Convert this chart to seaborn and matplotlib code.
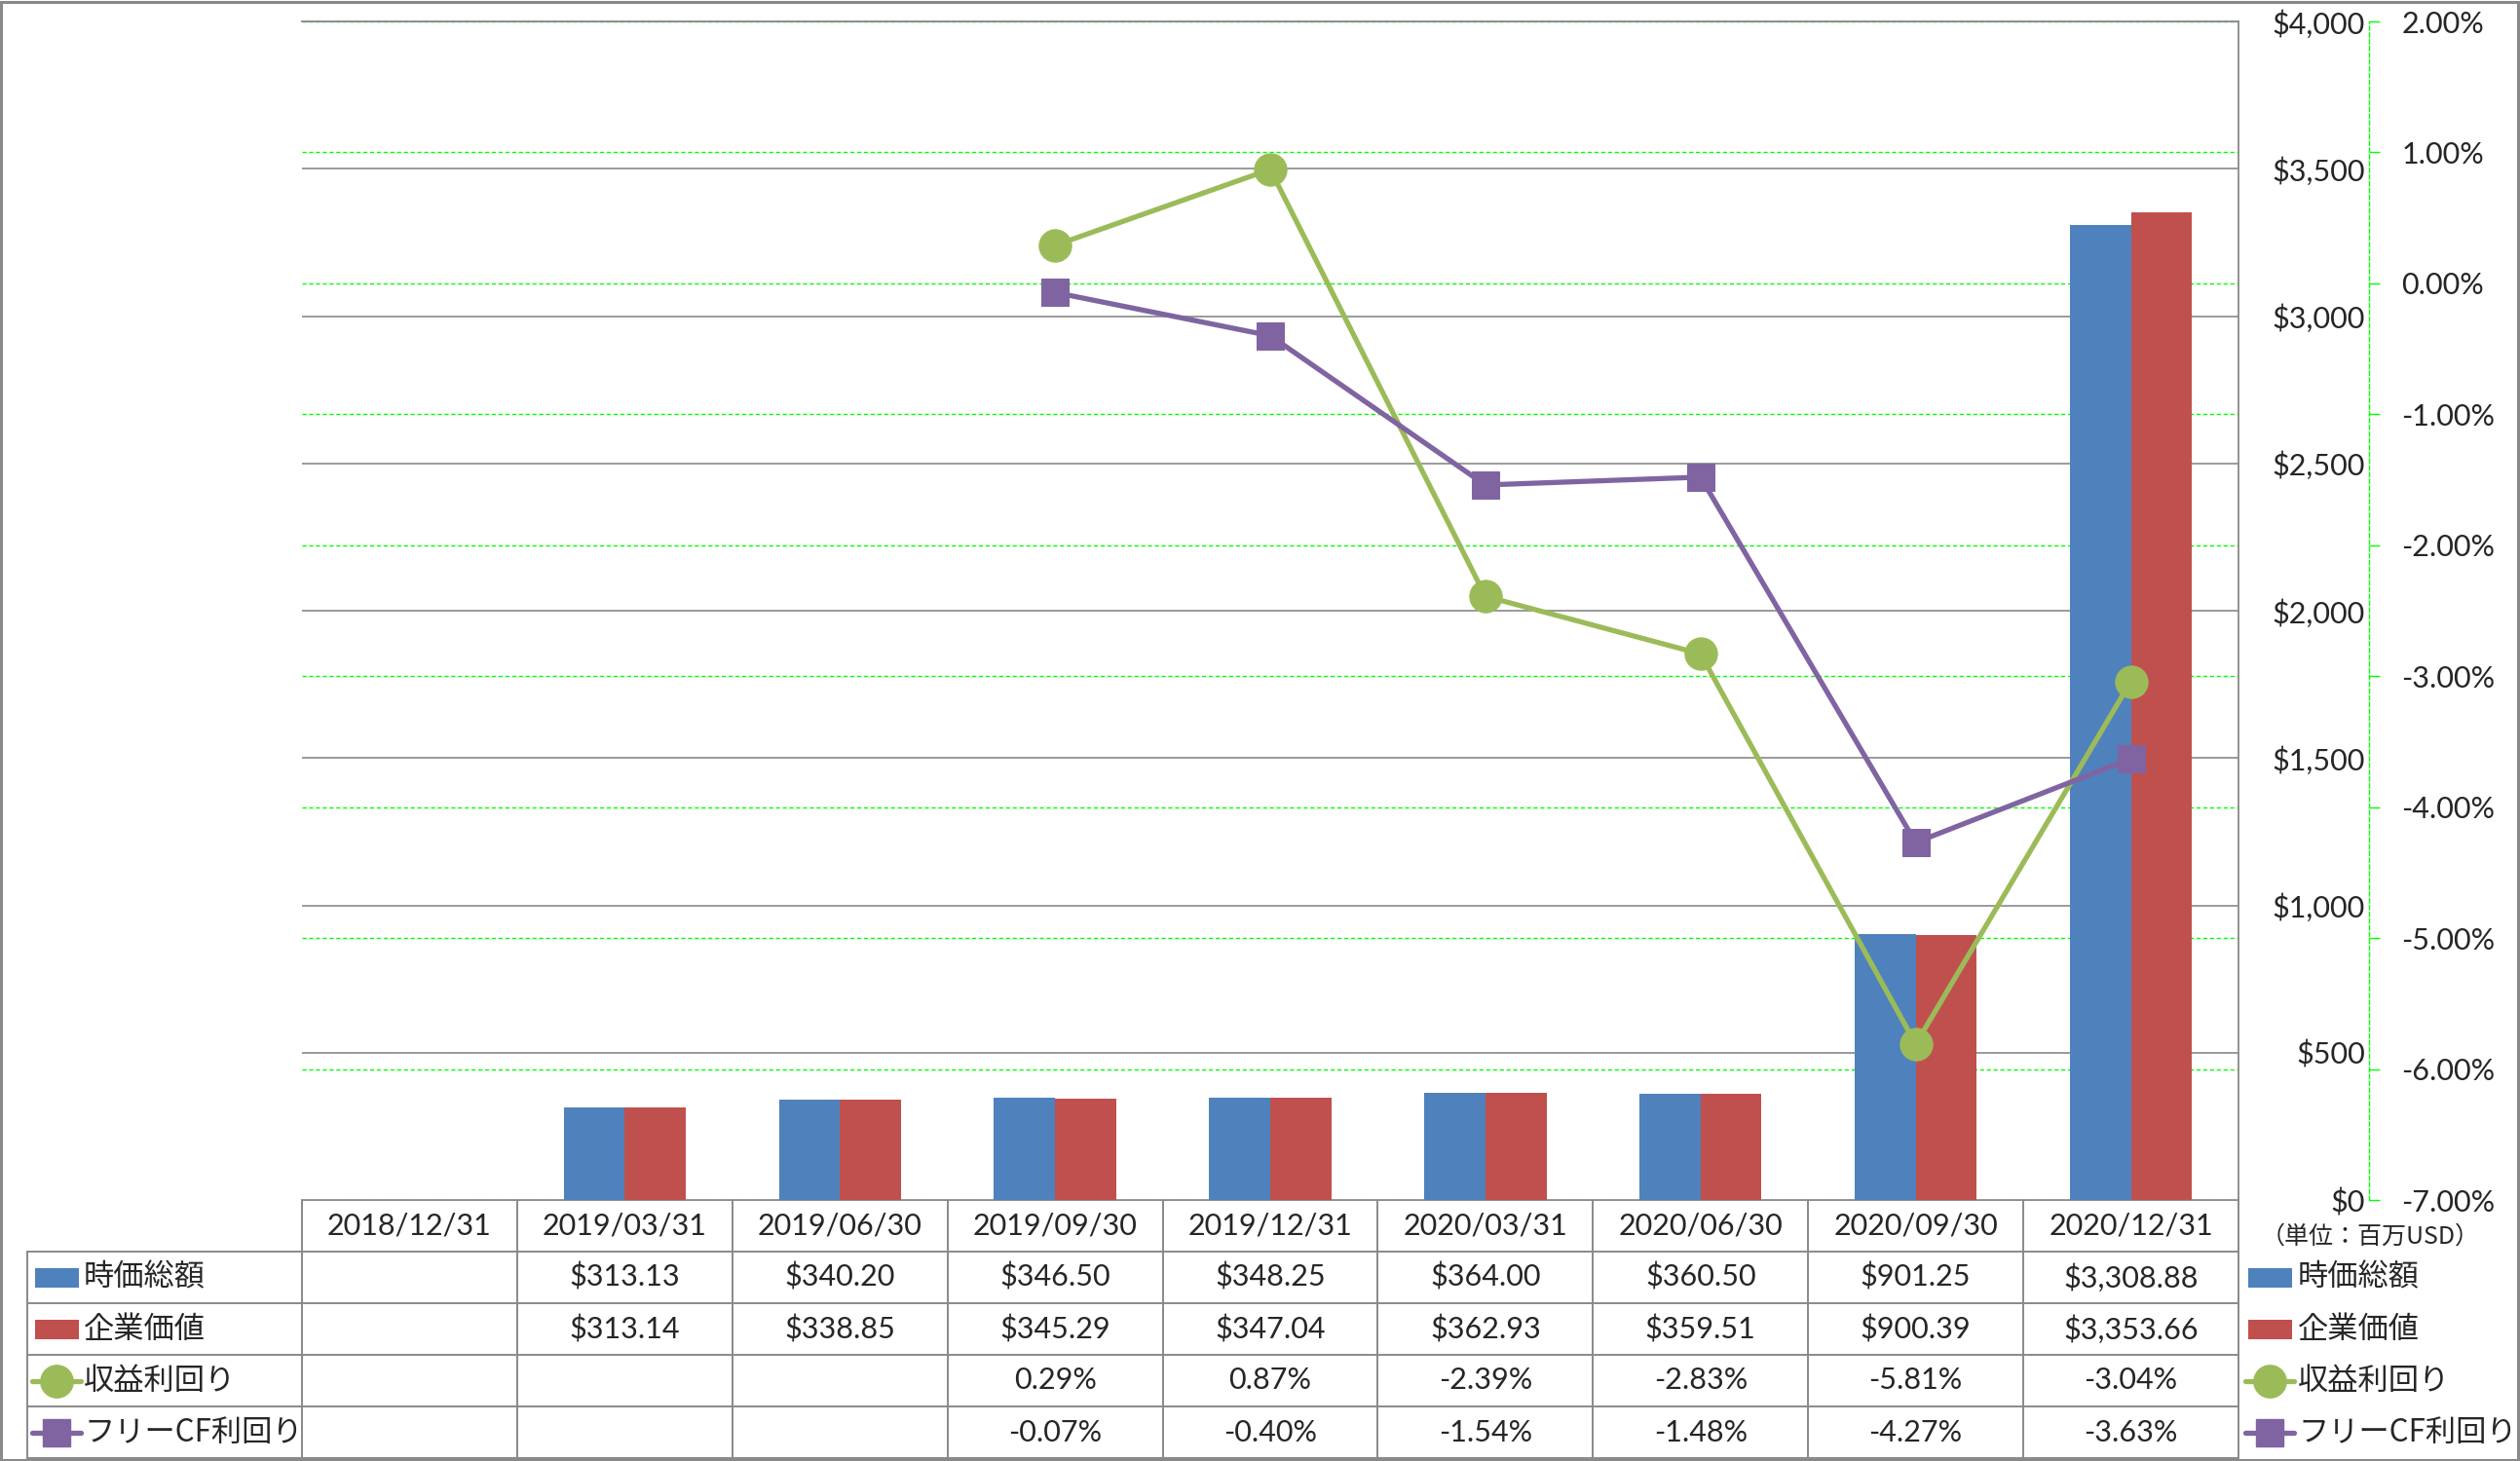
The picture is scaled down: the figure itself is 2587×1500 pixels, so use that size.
import numpy as np
import pandas as pd
import matplotlib
matplotlib.use("Agg")
import matplotlib.pyplot as plt
import matplotlib.transforms as mtransforms
from matplotlib.patches import Rectangle
from matplotlib.lines import Line2D
import seaborn as sns

# --- data ---
dates = ["2018/12/31", "2019/03/31", "2019/06/30", "2019/09/30", "2019/12/31",
         "2020/03/31", "2020/06/30", "2020/09/30", "2020/12/31"]
market_cap = [np.nan, 313.13, 340.20, 346.50, 348.25, 364.00, 360.50, 901.25, 3308.88]
enterprise_value = [np.nan, 313.14, 338.85, 345.29, 347.04, 362.93, 359.51, 900.39, 3353.66]
earnings_yield = [np.nan, np.nan, np.nan, 0.29, 0.87, -2.39, -2.83, -5.81, -3.04]
fcf_yield = [np.nan, np.nan, np.nan, -0.07, -0.40, -1.54, -1.48, -4.27, -3.63]
series_names = ["時価総額", "企業価値", "収益利回り", "フリーCF利回り"]
unit_label = "（単位：百万USD）"

usd_ticks = np.arange(0, 4001, 500)
pct_ticks = np.arange(-7, 2.01, 1)

BLUE, RED, GREEN, PURPLE = "#4F81BD", "#C0504D", "#9BBB59", "#8064A2"
GRAY, LIME = "#898989", "#00FF00"
JP = ["Noto Sans CJK JP", "DejaVu Sans"]

sns.set_theme(style="white")
plt.rcParams['font.family'] = ['Lato', 'Noto Sans CJK JP', 'DejaVu Sans']

W, H = 2587, 1500
fig = plt.figure(figsize=(W / 100, H / 100), dpi=100)


def px_rect(x0, y0, x1, y1):
    return [x0 / W, 1 - y1 / H, (x1 - x0) / W, (y1 - y0) / H]


PL, PT, PR, PB = 310, 22, 2298, 1232
rect = px_rect(PL, PT, PR, PB)
NUM_FS = 22

# table / frame layer in pixel coordinates
ax_tab = fig.add_axes([0, 0, 1, 1])
ax_tab.set_xlim(0, W)
ax_tab.set_ylim(H, 0)
ax_tab.axis("off")
ax_tab.patch.set_visible(False)

ax_grid = fig.add_axes(rect)   # secondary scale: green grid + axis
ax = fig.add_axes(rect)        # primary scale: bars
ax_line = fig.add_axes(rect)   # secondary scale: lines on top
ax.patch.set_visible(False)
ax_line.patch.set_visible(False)

# --- secondary axis (percent) with green dashed grid ---
ax_grid.set_xlim(-0.5, len(dates) - 0.5)
ax_grid.set_ylim(pct_ticks[0], pct_ticks[-1])
ax_grid.set_xticks([])
ax_grid.set_yticks(pct_ticks)
ax_grid.set_yticklabels([f"{v:.2f}%" for v in pct_ticks])
ax_grid.yaxis.tick_right()
ax_grid.tick_params(axis="y", direction="out", length=8, width=1, color=LIME,
                    pad=16, labelsize=NUM_FS)
for lab, v in zip(ax_grid.get_yticklabels(), pct_ticks):
    lab.set_color("#FF0000" if v < 0 else "black")
ax_grid.grid(axis="y", color=LIME, linewidth=1, linestyle=(0, (3, 2)))
for side in ["top", "left", "bottom"]:
    ax_grid.spines[side].set_visible(False)
ax_grid.spines["right"].set_position(("axes", 1 + 134 / (PR - PL)))
ax_grid.spines["right"].set_color(LIME)
ax_grid.spines["right"].set_linewidth(1)
ax_grid.spines["right"].set_linestyle((0, (3, 2)))

# --- bars ---
bars = pd.DataFrame({
    "date": dates * 2,
    "series": [series_names[0]] * len(dates) + [series_names[1]] * len(dates),
    "value": market_cap + enterprise_value,
}).dropna()
sns.barplot(data=bars, x="date", y="value", hue="series", order=dates,
            hue_order=series_names[:2], palette=[BLUE, RED], saturation=1,
            width=0.567, errorbar=None, legend=False, linewidth=0, ax=ax)
ax.set_xlim(-0.5, len(dates) - 0.5)
ax.set_ylim(usd_ticks[0], usd_ticks[-1])
ax.set_xlabel("")
ax.set_ylabel("")
ax.set_xticks([])
ax.set_yticks(usd_ticks)
ax.set_yticklabels([f"${v:,}" for v in usd_ticks])
ax.yaxis.tick_right()
ax.tick_params(axis="y", length=0, pad=93.6, labelsize=NUM_FS)
for lab in ax.get_yticklabels():
    lab.set_horizontalalignment("right")
ax.set_axisbelow(True)
ax.grid(axis="y", color=GRAY, linewidth=1.2)
for side in ["left", "bottom"]:
    ax.spines[side].set_visible(False)
for side in ["top", "right"]:
    ax.spines[side].set_color(GRAY)
    ax.spines[side].set_linewidth(1.3)

# --- lines ---
pos = np.arange(len(dates))
ey = pd.DataFrame({"x": pos, "y": earnings_yield}).dropna()
fy = pd.DataFrame({"x": pos, "y": fcf_yield}).dropna()
sns.lineplot(data=ey, x="x", y="y", color=GREEN, linewidth=3.8, marker="o",
             markersize=24, markeredgecolor=GREEN, ax=ax_line)
sns.lineplot(data=fy, x="x", y="y", color=PURPLE, linewidth=3.8, marker="s",
             markersize=20, markeredgecolor=PURPLE, ax=ax_line)
ax_line.set_xlim(-0.5, len(dates) - 0.5)
ax_line.set_ylim(pct_ticks[0], pct_ticks[-1])
ax_line.axis("off")

# --- data table ---
tr = mtransforms.blended_transform_factory(ax.transData, ax_tab.transData)
row_y = [1232, 1285, 1338, 1391, 1444, 1497]
TL = 28
lw_tab = 1.4
ax_tab.plot([PL, PR], [row_y[0]] * 2, color=GRAY, lw=lw_tab)
for y in row_y[1:]:
    ax_tab.plot([TL, PR], [y, y], color=GRAY, lw=lw_tab)
ax_tab.plot([TL, TL], [row_y[1], row_y[-1]], color=GRAY, lw=lw_tab)
for i in range(len(dates) + 1):
    ax_tab.plot([i - 0.5, i - 0.5], [row_y[0], row_y[-1]], color=GRAY,
                lw=lw_tab, transform=tr)

centers = [(row_y[k] + row_y[k + 1]) / 2 for k in range(5)]
for i, d in enumerate(dates):
    ax_tab.text(i, centers[0], d, transform=tr, ha="center", va="center", fontsize=NUM_FS)
rows = [
    [f"${v:,.2f}" if not np.isnan(v) else "" for v in market_cap],
    [f"${v:,.2f}" if not np.isnan(v) else "" for v in enterprise_value],
    [f"{v:.2f}%" if not np.isnan(v) else "" for v in earnings_yield],
    [f"{v:.2f}%" if not np.isnan(v) else "" for v in fcf_yield],
]
for r, vals in enumerate(rows):
    for i, s in enumerate(vals):
        ax_tab.text(i, centers[r + 1], s, transform=tr, ha="center",
                    va="center", fontsize=NUM_FS)


def legend_key(x0, yc, kind, color):
    if kind == "bar":
        ax_tab.add_patch(Rectangle((x0, yc - 10), 45, 20, color=color, lw=0))
    else:
        mk, ms = ("o", 24) if kind == "o" else ("s", 20)
        ax_tab.add_line(Line2D([x0 - 3, x0 + 47], [yc, yc], color=color, lw=3.8))
        ax_tab.add_line(Line2D([x0 + 22], [yc], color=color, marker=mk,
                               markersize=ms, markeredgecolor=color))


kinds = [("bar", BLUE), ("bar", RED), ("o", GREEN), ("s", PURPLE)]
for k, (name, (kind, col)) in enumerate(zip(series_names, kinds)):
    yc = centers[k + 1]
    legend_key(36, yc, kind, col)
    ax_tab.text(86, yc, name, ha="left", va="center", fontsize=22.5, family=JP)
    legend_key(2308, yc, kind, col)
    ax_tab.text(2359, yc, name, ha="left", va="center", fontsize=22.5, family=JP)

ax_tab.text(2433, 1270, unit_label, ha="center", va="center", fontsize=18, family=JP)

# outer frame
ax_tab.add_patch(Rectangle((1.5, 1.5), W - 3, H - 3, fill=False, edgecolor=GRAY,
                           lw=2.2, clip_on=False))

fig.savefig("out.png", dpi=100)
